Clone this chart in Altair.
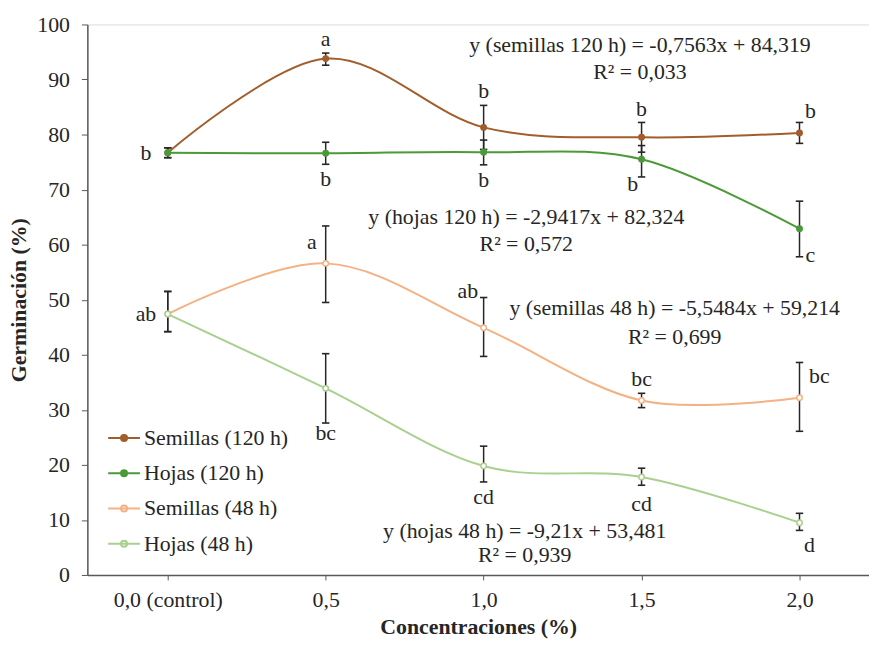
import altair as alt
import pandas as pd

categories = ["0,0 (control)", "0,5", "1,0", "1,5", "2,0"]
series = ["Semillas (120 h)", "Hojas (120 h)", "Semillas (48 h)", "Hojas (48 h)"]

semillas_120 = [76.7, 93.8, 81.3, 79.5, 80.3]
semillas_120_lo = [75.8, 92.6, 77.3, 76.8, 78.4]
semillas_120_hi = [77.6, 94.8, 85.3, 82.2, 82.2]
hojas_120 = [76.7, 76.6, 76.8, 75.5, 62.9]
hojas_120_lo = [75.8, 74.6, 74.5, 72.3, 57.8]
hojas_120_hi = [77.6, 78.6, 79.0, 78.0, 67.9]
semillas_48 = [47.4, 56.6, 44.9, 31.7, 32.2]
semillas_48_lo = [44.2, 49.5, 39.7, 30.4, 26.1]
semillas_48_hi = [51.5, 63.4, 50.4, 33.0, 38.6]
hojas_48 = [47.4, 33.9, 19.8, 17.8, 9.5]
hojas_48_lo = [44.2, 27.6, 16.9, 16.3, 8.1]
hojas_48_hi = [51.5, 40.2, 23.4, 19.4, 11.2]

letters_semillas_120 = ["b", "a", "b", "b", "b"]
letters_hojas_120 = ["", "b", "b", "b", "c"]
letters_semillas_48 = ["ab", "a", "ab", "bc", "bc"]
letters_hojas_48 = ["", "bc", "cd", "cd", "d"]

eq_texts = [
    "y (semillas 120 h) = -0,7563x  + 84,319", "R² = 0,033",
    "y (hojas 120 h) = -2,9417x  + 82,324", "R² = 0,572",
    "y (semillas 48 h) = -5,5484x  + 59,214", "R² = 0,699",
    "y (hojas 48 h) = -9,21x  + 53,481", "R² = 0,939",
]
eq_x = [2.99, 2.99, 2.27, 2.27, 3.21, 3.21, 2.26, 2.26]
eq_y = [96.2, 91.4, 65.0, 60.2, 48.5, 43.2, 7.9, 3.6]

# ---- styles ----
line_colors = ["#A15D2B", "#4A9A38", "#F4B183", "#A9D08E"]
point_fills = ["#A15D2B", "#4A9A38", "#ffffff", "#ffffff"]
line_widths = [2, 2, 3.5, 3.5]
place_s120 = ["left", "above", "above", "above", "above_right"]
place_h120 = ["none", "below", "below", "below_left", "right_low"]
place_s48 = ["left", "left_high", "left_top", "above", "right_top"]
place_h48 = ["none", "below_near", "below", "below_far", "below_right"]
placements = {
    "left": ("y", -22, 0),
    "above": ("hi", 0, -14),
    "above_right": ("hi", 11, -11),
    "below": ("lo", 0, 15),
    "below_near": ("lo", 0, 10),
    "below_far": ("lo", 0, 19),
    "below_left": ("lo", -9, 7),
    "right_low": ("lo", 11, -2),
    "left_high": ("hi", -14, 16),
    "left_top": ("hi", -16, -7),
    "right_top": ("hi", 20, 14),
    "below_right": ("lo", 10, 15),
}
FONT = "Liberation Serif, Times New Roman, Times, serif"
FS = 22
TXT = "#262626"

vals = [semillas_120, hojas_120, semillas_48, hojas_48]
los = [semillas_120_lo, hojas_120_lo, semillas_48_lo, hojas_48_lo]
his = [semillas_120_hi, hojas_120_hi, semillas_48_hi, hojas_48_hi]
lets = [letters_semillas_120, letters_hojas_120, letters_semillas_48, letters_hojas_48]
places = [place_s120, place_h120, place_s48, place_h48]

rows = []
for s, v, lo, hi, lt, pl in zip(series, vals, los, his, lets, places):
    for i in range(len(categories)):
        rows.append({"series": s, "x": i, "y": v[i], "lo": lo[i], "hi": hi[i],
                     "letter": lt[i], "place": pl[i]})
df = pd.DataFrame(rows)
eq_df = pd.DataFrame({"text": eq_texts, "x": eq_x, "y": eq_y})

xscale = alt.Scale(domain=[-0.509, 4.44], nice=False, zero=False)
yscale = alt.Scale(domain=[0, 100], nice=False)

label_expr = "[" + ",".join("'" + c + "'" for c in categories) + "][datum.value]"
legend_path = "M-1,0L1,0M0.19,0A0.19,0.19,0,1,1,-0.19,0A0.19,0.19,0,1,1,0.19,0Z"

def make_legend():
    return alt.Legend(orient="none", legendX=20, legendY=400, title=None,
                      symbolType=legend_path, symbolSize=1024, symbolStrokeWidth=2.5,
                      symbolOpacity=1,
                      labelFontSize=FS, labelFont=FONT, labelColor=TXT, rowPadding=7.5,
                      labelOffset=3, padding=0)

x_enc = alt.X("x:Q", scale=xscale, axis=alt.Axis(
    values=[0, 1, 2, 3, 4], labelExpr=label_expr, title="Concentraciones (%)",
    grid=False, tickSize=5, labelPadding=10, titlePadding=6,
    labelFontSize=FS, titleFontSize=FS, labelFont=FONT, titleFont=FONT,
    titleFontWeight="bold", labelColor=TXT, titleColor=TXT,
    domainColor="#595959", tickColor="#595959", domainWidth=1.5))
y_enc = alt.Y("y:Q", scale=yscale, axis=alt.Axis(
    values=list(range(0, 101, 10)), title="Germinación (%)", grid=False,
    tickSize=6, labelPadding=12, titlePadding=6, labelFontSize=FS, titleFontSize=FS,
    labelFont=FONT, titleFont=FONT, titleFontWeight="bold", labelColor=TXT,
    titleColor=TXT, domainColor="#595959", tickColor="#595959", domainWidth=1.5))

stroke_enc = alt.Stroke("series:N", scale=alt.Scale(domain=series, range=line_colors),
                        sort=series, legend=make_legend())
fill_enc = alt.Fill("series:N", scale=alt.Scale(domain=series, range=point_fills),
                    sort=series, legend=make_legend())

base = alt.Chart(df)
lines = base.mark_line(interpolate="cardinal").encode(
    x=x_enc, y=y_enc, stroke=stroke_enc,
    strokeWidth=alt.StrokeWidth("series:N", scale=alt.Scale(domain=series, range=line_widths), legend=None),
    order="x:Q")
bars = base.mark_rule(color="#262626", strokeWidth=1.5).encode(
    x="x:Q", y="lo:Q", y2="hi:Q")
cap_lo = base.mark_point(shape="stroke", size=56, color="#262626", strokeWidth=1.6, opacity=1).encode(
    x="x:Q", y="lo:Q")
cap_hi = base.mark_point(shape="stroke", size=56, color="#262626", strokeWidth=1.6, opacity=1).encode(
    x="x:Q", y="hi:Q")
pts = base.mark_point(filled=False, size=30, strokeWidth=1.5, opacity=1, shape="circle").encode(
    x="x:Q", y="y:Q", stroke=stroke_enc, fill=fill_enc)

letter_layers = []
for name, (anchor, dx, dy) in placements.items():
    letter_layers.append(
        base.transform_filter(alt.datum.place == name).mark_text(
            font=FONT, fontSize=FS, color=TXT, dx=dx, dy=dy, align="center", baseline="middle"
        ).encode(x="x:Q", y=alt.Y(anchor + ":Q"), text="letter:N"))

eqs = alt.Chart(eq_df).mark_text(font=FONT, fontSize=FS, color=TXT, align="center",
                                 baseline="middle").encode(x="x:Q", y="y:Q", text="text:N")

chart = alt.layer(lines, bars, cap_lo, cap_hi, pts, *letter_layers, eqs).properties(
    width=788, height=555,
    autosize=alt.AutoSizeParams(type="none"),
    padding={"left": 80, "top": 14, "right": 0, "bottom": 68},
).configure_view(stroke=None).configure(font=FONT)

chart.save("out.html", embed_options={"renderer": "svg", "actions": False})
